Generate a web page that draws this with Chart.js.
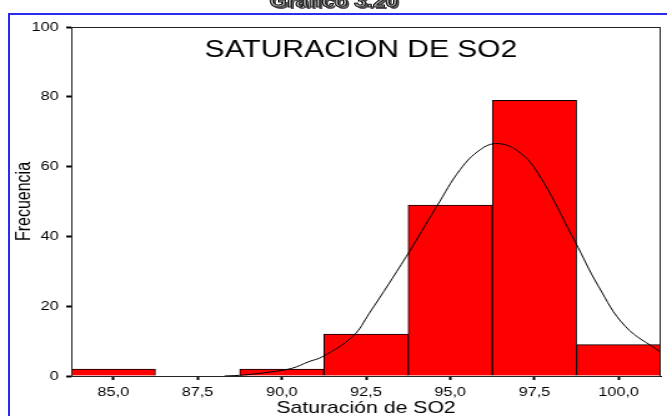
<!DOCTYPE html>
<html>
<head>
<meta charset="utf-8">
<script src="https://cdn.jsdelivr.net/npm/chart.js@4/dist/chart.umd.min.js"></script>
<style>
  body { margin: 0; background: #fff; }
  #wrap { position: relative; width: 667px; height: 416px; overflow: hidden; background: #fff; }
  #frame { position: absolute; left: 8px; top: 13px; width: 700px; height: 500px; border: 2px solid #2b2bf0; }
  /* the original picture is stretched sideways, so the chart is drawn narrow and widened */
  #stretch { position: absolute; left: 0; top: 0; width: 534px; height: 416px; transform: scaleX(1.2491); transform-origin: 0 0; }
  #head { position: absolute; left: 0; top: -9px; width: 534px; text-align: center; line-height: 18px;
          font: bold 18px "Liberation Sans", Arial, sans-serif; color: #9a9a9a;
          -webkit-text-stroke: 1px #222; text-shadow: 2px 2px 0 #555; }
  #chart { position: absolute; left: 0; top: 0; }
</style>
</head>
<body>
<div id="wrap">
  <div id="frame"></div>
  <div id="stretch">
    <div id="head">Gráfico 3.20</div>
    <canvas id="chart" width="534" height="416"></canvas>
  </div>
</div>
<script>
// Histogram bins (centres) and counts
const binCentres = [85, 87.5, 90, 92.5, 95, 97.5, 100];
const counts = [2, 0, 2, 12, 49, 79, 9];

// Normal curve
const curveX = [88.3, 88.9, 89.7, 90.3, 90.8, 91.2, 92.1, 92.6, 93.7, 94.6, 95.3, 95.9, 96.4, 97.0, 97.6, 98.7, 99.4, 100.2, 101.25];
const curveY = [0, 0.3, 1.2, 2.2, 4.1, 5.5, 11.3, 18.0, 34.3, 48.6, 59.2, 64.9, 66.6, 64.5, 58.2, 38.6, 25.7, 14.2, 6.8];

// Axis ticks
const xTicks = [85, 87.5, 90, 92.5, 95, 97.5, 100];
const yTicks = [0, 20, 40, 60, 80, 100];

const plotTitle = 'SATURACION DE SO2';
const xTitle = 'Saturación de SO2';
const yTitle = 'Frecuencia';

const fontFamily = '"Liberation Sans", Arial, sans-serif';

// Frame round the plot area and the title inside it
const framePlugin = {
    id: 'frame',
    afterDatasetsDraw(chart) {
        const { ctx, chartArea: a } = chart;
        ctx.save();
        ctx.strokeStyle = '#222';
        ctx.lineWidth = 1;
        ctx.strokeRect(a.left + 0.5, a.top + 0.5, a.right - a.left - 1, a.bottom - a.top);
        ctx.font = '24px ' + fontFamily;
        ctx.fillStyle = '#000';
        ctx.textAlign = 'center';
        ctx.textBaseline = 'middle';
        ctx.fillText(plotTitle, (a.left + a.right) / 2 - 4, a.top + 23);
        ctx.restore();
    }
};

const ctx = document.getElementById('chart').getContext('2d');
new Chart(ctx, {
    type: 'bar',
    data: {
        datasets: [
            {
                type: 'line',
                data: curveX.map((x, i) => ({ x: x, y: curveY[i] })),
                borderColor: '#000',
                borderWidth: 1,
                pointRadius: 0,
                tension: 0.4,
                fill: false,
                order: 0
            },
            {
                type: 'bar',
                data: binCentres.map((x, i) => ({ x: x, y: counts[i] })),
                backgroundColor: '#ff0000',
                borderColor: '#000',
                borderWidth: 1,
                barPercentage: 1,
                categoryPercentage: 1,
                order: 1
            }
        ]
    },
    options: {
        responsive: false,
        animation: false,
        layout: { padding: { top: 27, right: 5, left: 0, bottom: 0 } },
        plugins: {
            legend: { display: false },
            tooltip: { enabled: false }
        },
        scales: {
            x: {
                type: 'linear',
                offset: false,
                min: 83.75,
                max: 101.25,
                grid: { offset: false, drawOnChartArea: false, drawTicks: true, tickLength: 4, tickWidth: 2, tickColor: '#000' },
                border: { display: true, color: '#000', width: 1 },
                ticks: {
                    color: '#000',
                    padding: 5,
                    maxRotation: 0,
                    autoSkip: false,
                    font: { family: fontFamily, size: 13 },
                    callback: v => v.toFixed(1).replace('.', ',')
                },
                afterBuildTicks: scale => { scale.ticks = xTicks.map(v => ({ value: v })); },
                title: {
                    display: true,
                    text: xTitle,
                    color: '#000',
                    padding: { top: 0, bottom: -3 },
                    font: { family: fontFamily, size: 17 }
                },
                afterFit: scale => { scale.height = 40; }
            },
            y: {
                min: 0,
                max: 100,
                grid: { drawOnChartArea: false, drawTicks: true, tickLength: 4, tickWidth: 2, tickColor: '#000' },
                border: { display: true, color: '#000', width: 1 },
                ticks: {
                    color: '#000',
                    padding: 6,
                    font: { family: fontFamily, size: 13 }
                },
                afterBuildTicks: scale => { scale.ticks = yTicks.map(v => ({ value: v })); },
                title: {
                    display: true,
                    text: yTitle,
                    color: '#000',
                    padding: { top: 10, bottom: 0 },
                    font: { family: fontFamily, size: 16 }
                },
                afterFit: scale => { scale.width = 57; }
            }
        }
    },
    plugins: [framePlugin]
});
</script>
</body>
</html>
